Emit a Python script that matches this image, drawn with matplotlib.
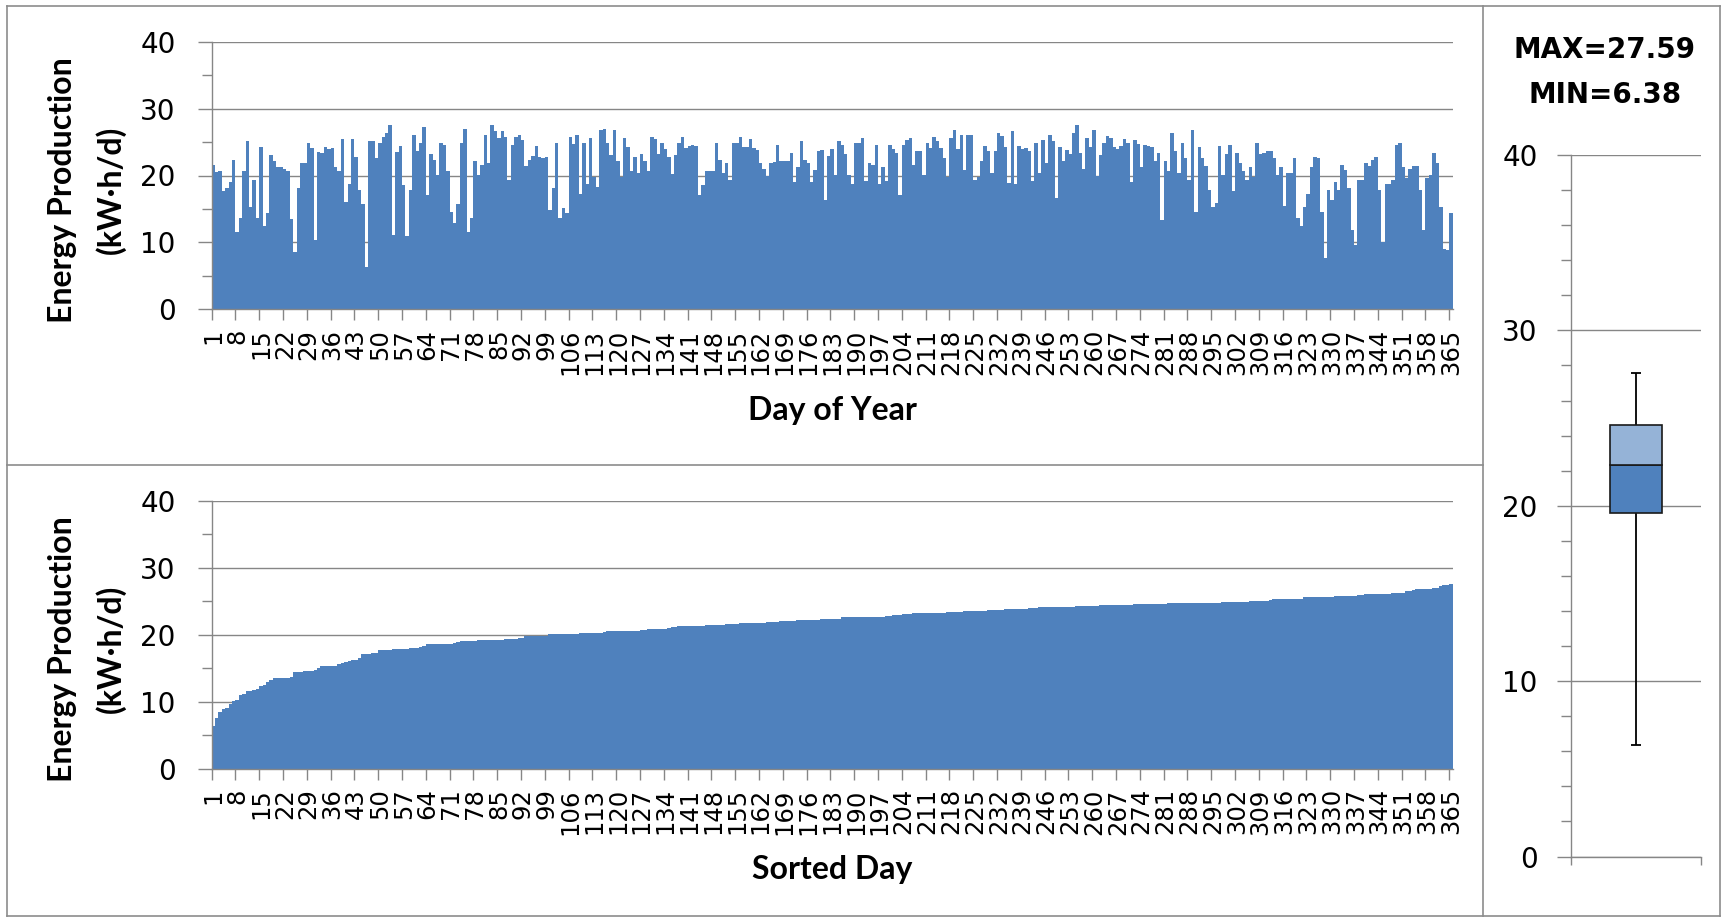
import numpy as np
import matplotlib
matplotlib.use("Agg")
import matplotlib.pyplot as plt
from matplotlib.lines import Line2D
from matplotlib.ticker import MultipleLocator, FixedLocator, NullFormatter

# daily PV energy production (kW·h/d), day 1 .. 365
energy = [
    21.5, 20.5, 20.6, 17.7, 18.1, 19.1, 22.3, 11.6, 13.6, 20.6,
    25.1, 15.3, 19.3, 13.7, 24.2, 12.5, 14.4, 23.0, 22.2, 21.2,
    21.2, 21.0, 20.7, 13.5, 8.5, 18.1, 21.9, 21.8, 24.8, 24.1,
    10.3, 23.5, 23.3, 24.2, 23.9, 24.1, 21.3, 20.7, 25.4, 16.1,
    18.7, 25.4, 22.8, 17.9, 15.7, 6.38, 25.2, 25.1, 22.6, 24.9,
    25.8, 26.3, 27.59, 11.1, 23.5, 24.4, 18.6, 11.0, 17.9, 26.1,
    23.6, 24.8, 27.3, 17.1, 23.2, 22.3, 20.1, 24.8, 24.6, 20.6,
    14.6, 12.9, 15.8, 24.8, 27.0, 11.6, 13.6, 22.2, 20.1, 21.6,
    26.1, 21.8, 27.5, 26.7, 25.6, 26.6, 25.8, 19.3, 24.5, 25.7,
    26.1, 25.3, 21.4, 22.3, 22.9, 24.4, 22.7, 22.6, 22.7, 14.8,
    18.2, 24.9, 13.6, 15.1, 14.4, 25.8, 24.7, 26.1, 17.3, 24.9,
    18.7, 25.6, 19.8, 18.3, 26.8, 27.0, 24.8, 23.1, 26.8, 22.1,
    19.8, 25.6, 24.3, 20.6, 22.7, 20.3, 23.2, 22.2, 20.6, 25.8,
    25.4, 23.2, 24.8, 24.0, 22.8, 20.2, 23.1, 24.9, 25.8, 24.1,
    24.4, 24.6, 24.4, 17.1, 18.6, 20.6, 20.6, 20.6, 24.8, 22.3,
    20.3, 21.8, 19.4, 24.9, 24.8, 25.8, 24.2, 24.3, 25.4, 24.1,
    23.8, 21.8, 20.9, 19.9, 21.9, 22.0, 24.6, 22.2, 22.1, 22.1,
    23.4, 19.1, 21.3, 25.1, 22.3, 21.9, 19.1, 20.8, 23.7, 23.8,
    16.3, 22.9, 23.9, 20.1, 25.1, 24.6, 23.2, 20.1, 18.8, 24.8,
    24.9, 25.6, 19.2, 21.8, 21.6, 24.6, 18.7, 21.3, 19.2, 24.6,
    24.0, 23.3, 17.1, 24.6, 25.3, 25.6, 21.6, 23.7, 23.7, 20.1,
    24.9, 24.1, 25.8, 25.1, 24.1, 22.6, 19.8, 25.6, 26.8, 24.0,
    26.1, 20.8, 26.1, 26.1, 19.3, 19.8, 22.1, 24.4, 23.6, 20.3,
    23.6, 26.3, 25.9, 24.3, 18.9, 26.6, 18.7, 24.4, 23.9, 24.1,
    23.6, 19.2, 24.8, 20.3, 25.3, 21.8, 26.1, 25.1, 16.6, 24.3,
    22.2, 23.8, 23.2, 26.3, 27.5, 23.4, 20.9, 25.6, 24.3, 26.8,
    19.9, 23.1, 24.8, 25.9, 25.6, 24.3, 23.9, 24.4, 25.4, 24.8,
    19.1, 25.3, 24.7, 21.3, 24.6, 24.4, 24.3, 22.2, 23.4, 13.3,
    22.2, 20.6, 26.3, 23.7, 20.3, 24.9, 22.6, 19.3, 26.8, 14.6,
    24.2, 22.6, 21.4, 17.8, 15.3, 15.9, 24.4, 20.1, 23.2, 24.6,
    17.7, 23.4, 21.9, 20.6, 19.3, 21.3, 19.8, 24.8, 23.2, 23.3,
    23.7, 23.6, 22.6, 20.1, 21.3, 15.4, 20.3, 20.3, 22.6, 13.6,
    12.4, 15.3, 17.3, 21.3, 22.7, 22.6, 14.6, 7.6, 17.9, 16.3,
    19.1, 17.8, 21.6, 20.8, 18.1, 11.9, 9.6, 19.4, 19.4, 21.8,
    21.4, 22.3, 22.7, 17.9, 10.1, 18.7, 18.7, 19.4, 24.6, 24.8,
    21.3, 19.6, 20.9, 21.4, 21.4, 17.9, 11.8, 19.6, 20.1, 23.4,
    21.8, 15.3, 9.0, 8.9, 14.4,
]
days = np.arange(1, len(energy) + 1)
label_days = np.arange(1, 366, 7)
sorted_energy = np.sort(energy)

BAR = "#4F81BD"
LIGHT = "#95B3D7"
GRID = "#868686"
FRAME = "#8C8C8C"

W, H = 1724, 918
fig = plt.figure(figsize=(W / 100, H / 100), dpi=100)


def px_rect(x0, y0, x1, y1):
    # pixel box (top-left origin) -> figure fraction rect
    return [x0 / W, 1 - y1 / H, (x1 - x0) / W, (y1 - y0) / H]


def fig_line(x0, y0, x1, y1):
    fig.add_artist(Line2D([x0 / W, x1 / W], [1 - y0 / H, 1 - y1 / H],
                          transform=fig.transFigure, color=FRAME, lw=1.2))


def day_panel(rect, values, ylab_y):
    ax = fig.add_axes(rect)
    ax.bar(days, values, width=1.0, color=BAR, linewidth=0, zorder=2)
    ax.set_xlim(0.5, 365.5)
    ax.set_ylim(0, 40)
    ax.yaxis.set_major_locator(MultipleLocator(10))
    ax.yaxis.set_minor_locator(MultipleLocator(5))
    ax.grid(axis="y", which="major", color=GRID, lw=1.0, zorder=0)
    ax.set_axisbelow(True)
    for s in ("top", "right"):
        ax.spines[s].set_visible(False)
    for s in ("left", "bottom"):
        ax.spines[s].set_color(GRID)
        ax.spines[s].set_linewidth(1.0)
    ax.tick_params(axis="y", which="major", length=10, width=1, color=GRID,
                   pad=16, labelsize=20)
    ax.tick_params(axis="y", which="minor", length=7, width=1, color=GRID)
    ax.xaxis.set_major_locator(FixedLocator(label_days))
    ax.set_xticklabels([str(d) for d in label_days])
    ax.xaxis.set_minor_locator(FixedLocator(np.arange(0.5, 365, 7)))
    ax.tick_params(axis="x", which="major", length=0, pad=14,
                   labelsize=17.5, labelrotation=90)
    ax.tick_params(axis="x", which="minor", length=8, width=1, color=GRID)

    fig.text(63 / W, 1 - ylab_y / H, "Energy Production", rotation=90,
             ha="center", va="center", fontsize=23, family="Lato",
             weight="bold")
    fig.text(110 / W, 1 - ylab_y / H, "(kW·h/d)", rotation=90,
             ha="center", va="center", fontsize=23, family="Lato",
             weight="bold")
    return ax


day_panel(px_rect(211.7, 41.7, 1452.7, 309.3), energy, 190)
fig.text(832 / W, 1 - 411 / H, "Day of Year", ha="center", va="center",
         fontsize=23, family="Lato", weight="bold")

day_panel(px_rect(211.7, 501, 1452.7, 768.7), sorted_energy, 649)
fig.text(832 / W, 1 - 869 / H, "Sorted Day", ha="center", va="center",
         fontsize=23, family="Lato", weight="bold")

# box plot of the daily values
q1, med, q3 = np.percentile(energy, [25, 50, 75])
lo, hi = min(energy), max(energy)

axb = fig.add_axes(px_rect(1571, 155, 1701, 856.5))
axb.set_xlim(0.5, 1.5)
axb.set_ylim(0, 40)
axb.vlines(1, lo, q1, color="black", lw=1.3, zorder=2)
axb.vlines(1, q3, hi, color="black", lw=1.3, zorder=2)
axb.hlines([lo, hi], 0.965, 1.035, color="black", lw=1.3, zorder=2)
axb.bar(1, med - q1, bottom=q1, width=0.4, color=BAR, edgecolor="#1A1A1A",
        lw=1.2, zorder=3)
axb.bar(1, q3 - med, bottom=med, width=0.4, color=LIGHT, edgecolor="#1A1A1A",
        lw=1.2, zorder=3)
axb.yaxis.set_major_locator(MultipleLocator(10))
axb.yaxis.set_minor_locator(MultipleLocator(2))
axb.grid(axis="y", which="major", color=GRID, lw=1.0, zorder=0)
axb.set_axisbelow(True)
for s in ("top", "right"):
    axb.spines[s].set_visible(False)
for s in ("left", "bottom"):
    axb.spines[s].set_color(GRID)
    axb.spines[s].set_linewidth(1.0)
axb.tick_params(axis="y", which="major", length=10, width=1, color=GRID,
                pad=14, labelsize=20)
axb.tick_params(axis="y", which="minor", length=7, width=1, color=GRID)
axb.xaxis.set_major_locator(FixedLocator([]))
axb.xaxis.set_minor_locator(FixedLocator([0.5, 1.5]))
axb.xaxis.set_minor_formatter(NullFormatter())
axb.tick_params(axis="x", which="minor", length=6, width=1, color=GRID)

fig.text(1605 / W, 1 - 50 / H, f"MAX={hi:.2f}", ha="center", va="center",
         fontsize=20, weight="bold")
fig.text(1605 / W, 1 - 95 / H, f"MIN={lo:.2f}", ha="center", va="center",
         fontsize=20, weight="bold")

# chart frames
fig_line(7, 6, 1720, 6)
fig_line(7, 916, 1720, 916)
fig_line(7, 6, 7, 916)
fig_line(1720, 6, 1720, 916)
fig_line(1482.5, 6, 1482.5, 916)
fig_line(7, 465, 1482.5, 465)

fig.savefig("out.png", dpi=100)
